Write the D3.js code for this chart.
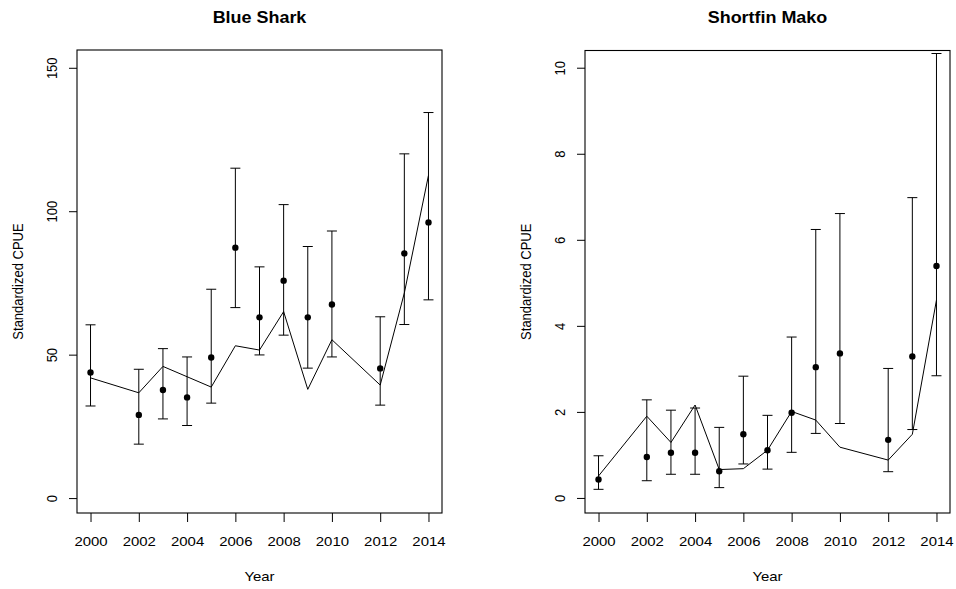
<!DOCTYPE html>
<html>
<head>
<meta charset="utf-8">
<script src="https://cdn.jsdelivr.net/npm/d3@7"></script>
<style>
  html, body { margin: 0; padding: 0; background: #ffffff; }
  svg { display: block; }
  text { font-family: "Liberation Sans", Arial, Helvetica, sans-serif; fill: #000; }
</style>
</head>
<body>
<svg id="chart" width="956" height="589"></svg>
<script>
// ---------- data ----------
const years = [2000, 2002, 2003, 2004, 2005, 2006, 2007, 2008, 2009, 2010, 2012, 2013, 2014];
const xTickValues = [2000, 2002, 2004, 2006, 2008, 2010, 2012, 2014];

const blueObs   = [43.8, 29.0, 37.7, 35.1, 49.0, 87.3, 63.0, 75.8, 63.0, 67.5, 45.2, 85.3, 96.1];
const blueLower = [32.1, 18.8, 27.6, 25.3, 33.1, 66.4, 49.9, 56.8, 45.3, 49.2, 32.4, 60.5, 69.1];
const blueUpper = [60.4, 44.9, 52.1, 49.2, 72.8, 115.0, 80.6, 102.3, 87.7, 93.1, 63.2, 120.0, 134.4];
const bluePred  = [41.9, 36.7, 45.9, 42.3, 38.7, 53.1, 51.6, 65.0, 37.9, 55.2, 39.4, 71.5, 112.5];
const blueYTicks = [0, 50, 100, 150];

const makoObs   = [0.43, 0.95, 1.05, 1.05, 0.62, 1.48, 1.11, 1.98, 3.04, 3.36, 1.35, 3.29, 5.39];
const makoLower = [0.20, 0.40, 0.55, 0.55, 0.24, 0.79, 0.67, 1.06, 1.50, 1.73, 0.61, 1.59, 2.84];
const makoUpper = [0.98, 2.28, 2.04, 2.09, 1.64, 2.83, 1.92, 3.74, 6.24, 6.61, 3.01, 6.98, 10.33];
const makoPred  = [0.51, 1.90, 1.29, 2.16, 0.66, 0.68, 1.11, 2.01, 1.81, 1.18, 0.88, 1.48, 4.60];
const makoYTicks = [0, 2, 4, 6, 8, 10];

const titles = ["Blue Shark", "Shortfin Mako"];
const xLabel = "Year";
const yLabel = "Standardized CPUE";

// ---------- layout ----------
const svg = d3.select("#chart");
const SX = 1.15;           // horizontal text stretch seen in the reference
const FS = 13;             // base font size
const panels = [
  { title: titles[0], obs: blueObs, lo: blueLower, hi: blueUpper, pred: bluePred, yTicks: blueYTicks,
    left: 77, right: 442, top: 50, bottom: 513, yDomain: [-5.2, 156.2] },
  { title: titles[1], obs: makoObs, lo: makoLower, hi: makoUpper, pred: makoPred, yTicks: makoYTicks,
    left: 585, right: 950, top: 50.5, bottom: 513, yDomain: [-0.35, 10.4] }
];

function stretchText(sel, x, y, rot) {
  sel.attr("transform", `translate(${x},${y}) scale(${SX},1)` + (rot ? " rotate(-90)" : ""));
}

panels.forEach(p => {
  const x = d3.scaleLinear().domain([1999.44, 2014.56]).range([p.left, p.right]);
  const y = d3.scaleLinear().domain(p.yDomain).range([p.bottom, p.top]);
  const g = svg.append("g");
  const cx = (p.left + p.right) / 2;
  const cy = (p.top + p.bottom) / 2;

  // box
  g.append("rect")
    .attr("x", p.left).attr("y", p.top)
    .attr("width", p.right - p.left).attr("height", p.bottom - p.top)
    .attr("fill", "none").attr("stroke", "#000").attr("stroke-width", 1.1);

  // x axis
  const xa = g.append("g").attr("transform", `translate(0,${p.bottom})`)
    .call(d3.axisBottom(x).tickValues(xTickValues).tickSize(9).tickSizeOuter(0).tickFormat(d3.format("d")));
  xa.select(".domain").remove();
  xa.selectAll(".tick line").attr("stroke", "#000");
  xa.selectAll(".tick text")
    .attr("x", 0).attr("y", 0).attr("dy", 0)
    .attr("font-size", FS).attr("font-family", "Liberation Sans, Arial, sans-serif")
    .attr("text-anchor", "middle").attr("fill", "#000")
    .each(function() { stretchText(d3.select(this), 0, 33, false); });

  // y axis
  const ya = g.append("g").attr("transform", `translate(${p.left},0)`)
    .call(d3.axisLeft(y).tickValues(p.yTicks).tickSize(8).tickSizeOuter(0).tickFormat(d3.format("d")));
  ya.select(".domain").remove();
  ya.selectAll(".tick line").attr("stroke", "#000");
  ya.selectAll(".tick text")
    .attr("x", 0).attr("y", 0).attr("dy", 0)
    .attr("font-size", FS).attr("font-family", "Liberation Sans, Arial, sans-serif")
    .attr("text-anchor", "middle").attr("fill", "#000")
    .each(function() { stretchText(d3.select(this), -20, 0, true); });

  // title
  g.append("text").text(p.title)
    .attr("font-size", 15.6).attr("font-weight", "bold").attr("text-anchor", "middle")
    .call(s => stretchText(s, cx, 23, false));

  // axis titles
  g.append("text").text(xLabel)
    .attr("font-size", FS).attr("text-anchor", "middle")
    .call(s => stretchText(s, cx, 581, false));
  g.append("text").text(yLabel)
    .attr("font-size", FS).attr("text-anchor", "middle")
    .call(s => stretchText(s, p.left - 54, cy, true));

  // predicted line
  const line = d3.line().x((d, i) => x(years[i])).y(d => y(d));
  g.append("path").datum(p.pred).attr("d", line)
    .attr("fill", "none").attr("stroke", "#000").attr("stroke-width", 1);

  // error bars
  const cap = 5;
  const eb = g.append("g").attr("stroke", "#000").attr("stroke-width", 1);
  years.forEach((yr, i) => {
    const xx = x(yr);
    eb.append("line").attr("x1", xx).attr("x2", xx).attr("y1", y(p.lo[i])).attr("y2", y(p.hi[i]));
    eb.append("line").attr("x1", xx - cap).attr("x2", xx + cap).attr("y1", y(p.lo[i])).attr("y2", y(p.lo[i]));
    eb.append("line").attr("x1", xx - cap).attr("x2", xx + cap).attr("y1", y(p.hi[i])).attr("y2", y(p.hi[i]));
  });

  // points
  g.append("g").selectAll("circle").data(p.obs).join("circle")
    .attr("cx", (d, i) => x(years[i])).attr("cy", d => y(d))
    .attr("r", 3.2).attr("fill", "#000");
});
</script>
</body>
</html>
